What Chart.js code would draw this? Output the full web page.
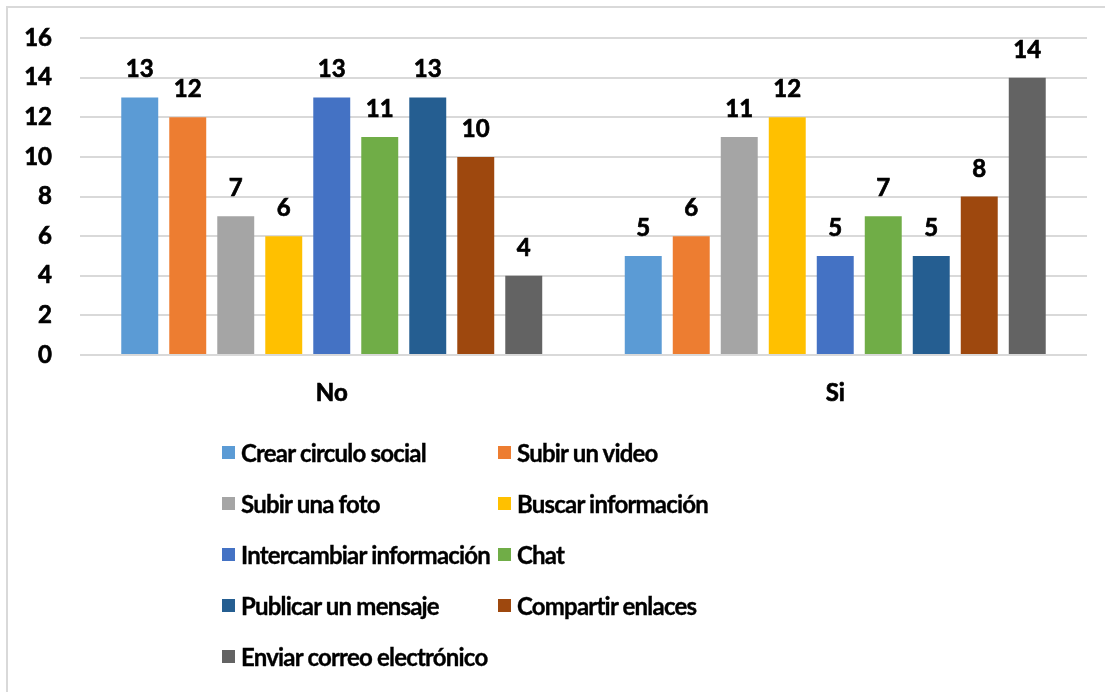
<!DOCTYPE html>
<html>
<head>
<meta charset="utf-8">
<script src="https://cdn.jsdelivr.net/npm/chart.js@4"></script>
<style>
  html, body { margin: 0; padding: 0; background: #fff; overflow: hidden; }
  #wrap { position: relative; width: 1105px; height: 692px; }
  #frame { position: absolute; left: 6px; top: 6px; width: 1300px; height: 900px; border: 2px solid #d9d9d9; box-sizing: border-box; }
  #chart { position: absolute; left: 0; top: 0; }
  #legend { position: absolute; left: 222px; top: 427px; display: grid; grid-template-columns: 276px 300px; grid-auto-rows: 51px;
            font-family: Lato, sans-serif; font-weight: bold; font-size: 24px; letter-spacing: -0.8px; color: #000;
            -webkit-text-stroke: 0.35px #000; }
  #legend .item { display: flex; align-items: center; white-space: nowrap; }
  #legend .box { width: 13px; height: 13px; margin-right: 6px; flex: none; }
</style>
</head>
<body>
<div id="wrap">
  <div id="frame"></div>
  <canvas id="chart" width="1105" height="692"></canvas>
  <div id="legend"></div>
</div>
<script>
// ========================================
// DATA
// ========================================
const categories = ['No', 'Si'];
const seriesNames = [
    'Crear circulo social', 'Subir un video', 'Subir una foto', 'Buscar información',
    'Intercambiar información', 'Chat', 'Publicar un mensaje', 'Compartir enlaces',
    'Enviar correo electrónico'
];
const seriesValues = [
    [13, 5],
    [12, 6],
    [7, 11],
    [6, 12],
    [13, 5],
    [11, 7],
    [13, 5],
    [10, 8],
    [4, 14]
];
const seriesColors = ['#5B9BD5', '#ED7D31', '#A5A5A5', '#FFC000', '#4472C4', '#70AD47', '#255E91', '#9E480E', '#636363'];
const yTicks = [0, 2, 4, 6, 8, 10, 12, 14, 16];

const FONT = 'Lato, sans-serif';
const tickFont = { family: FONT, size: 24, weight: 'bold' };

// ========================================
// VALUE LABELS ABOVE BARS
// ========================================
const valueLabels = {
    id: 'valueLabels',
    afterDatasetsDraw(chart) {
        const ctx = chart.ctx;
        ctx.save();
        ctx.font = 'bold 24px ' + FONT;
        ctx.fillStyle = '#000';
        ctx.strokeStyle = '#000';
        ctx.lineWidth = 0.7;
        ctx.textAlign = 'center';
        ctx.textBaseline = 'alphabetic';
        chart.data.datasets.forEach((ds, i) => {
            chart.getDatasetMeta(i).data.forEach((bar, j) => {
                ctx.fillText(ds.data[j], bar.x, bar.y - 20);
                ctx.strokeText(ds.data[j], bar.x, bar.y - 20);
            });
        });
        ctx.restore();
    }
};

// ========================================
// BUILD CHART
// ========================================
const datasets = seriesNames.map((name, i) => ({
    label: name,
    data: seriesValues[i],
    backgroundColor: seriesColors[i],
    borderWidth: 0,
    categoryPercentage: 0.858,
    barPercentage: 0.77
}));

const chart = new Chart(document.getElementById('chart'), {
    type: 'bar',
    data: { labels: categories, datasets: datasets },
    options: {
        responsive: false,
        animation: false,
        layout: { padding: { top: 38, right: 18, bottom: 277, left: 0 } },
        plugins: { legend: { display: false }, tooltip: { enabled: false } },
        scales: {
            x: {
                grid: { display: false, drawTicks: false },
                border: { display: false },
                ticks: { color: '#000', font: tickFont, padding: 24, textStrokeColor: '#000', textStrokeWidth: 0.7 },
                afterFit: s => { s.height = 60; }
            },
            y: {
                min: 0,
                max: 16,
                afterBuildTicks: s => { s.ticks = yTicks.map(v => ({ value: v })); },
                grid: { color: '#d9d9d9', lineWidth: 2, drawTicks: true, tickLength: 20, tickColor: 'rgba(0,0,0,0)' },
                border: { display: false },
                ticks: { color: '#000', font: tickFont, padding: 8, textStrokeColor: '#000', textStrokeWidth: 0.7 },
                afterFit: s => { s.width = 80; }
            }
        }
    },
    plugins: [valueLabels]
});

// ========================================
// LEGEND (two columns)
// ========================================
const legendEl = document.getElementById('legend');
chart.data.datasets.forEach(ds => {
    const item = document.createElement('div');
    item.className = 'item';
    item.innerHTML = `<span class="box" style="background:${ds.backgroundColor}"></span><span>${ds.label}</span>`;
    legendEl.appendChild(item);
});
</script>
</body>
</html>
